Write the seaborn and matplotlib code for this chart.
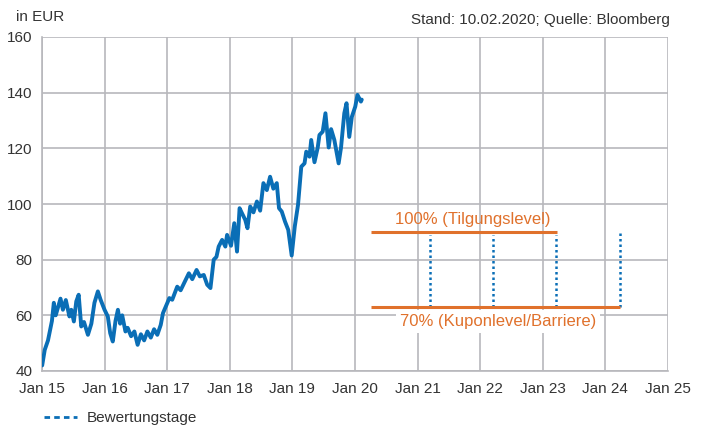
import matplotlib
matplotlib.use("Agg")
import numpy as np
import pandas as pd
import seaborn as sns
from matplotlib import pyplot as plt
import matplotlib.dates as mdates
from matplotlib.lines import Line2D

# price history
price_dates = [
    "2015-01-02", "2015-01-17", "2015-02-05", "2015-02-28", "2015-03-11", "2015-03-22", "2015-04-19",
    "2015-05-03", "2015-05-20", "2015-06-10", "2015-06-21", "2015-07-06", "2015-07-20", "2015-08-03",
    "2015-08-18", "2015-09-03", "2015-09-26", "2015-10-16", "2015-11-03", "2015-11-23", "2015-12-09",
    "2016-01-01", "2016-01-20", "2016-02-03", "2016-02-18", "2016-03-05", "2016-03-19", "2016-04-01",
    "2016-04-13", "2016-05-02", "2016-05-15", "2016-06-04", "2016-06-23", "2016-07-12", "2016-07-31",
    "2016-08-19", "2016-09-07", "2016-09-27", "2016-10-16", "2016-11-04", "2016-11-24", "2016-12-07",
    "2017-01-01", "2017-01-13", "2017-01-30", "2017-02-28", "2017-03-20", "2017-04-18", "2017-05-07",
    "2017-05-27", "2017-06-21", "2017-07-10", "2017-08-02", "2017-08-22", "2017-09-10", "2017-09-29",
    "2017-10-15", "2017-10-28", "2017-11-17", "2017-12-06", "2017-12-16", "2018-01-08", "2018-01-27",
    "2018-02-12", "2018-02-27", "2018-03-12", "2018-04-01", "2018-04-14", "2018-04-30", "2018-05-19",
    "2018-06-08", "2018-06-27", "2018-07-16", "2018-08-05", "2018-08-24", "2018-09-12", "2018-10-02",
    "2018-10-15", "2018-10-31", "2018-11-19", "2018-12-08", "2018-12-28", "2019-01-15", "2019-02-03",
    "2019-02-22", "2019-03-13", "2019-03-23", "2019-04-11", "2019-04-21", "2019-05-10", "2019-05-29",
    "2019-06-08", "2019-06-27", "2019-07-13", "2019-08-01", "2019-08-15", "2019-09-03", "2019-09-28",
    "2019-10-12", "2019-10-31", "2019-11-13", "2019-11-29", "2019-12-14", "2020-01-03", "2020-01-16",
    "2020-02-05", "2020-02-10",
]
price_values = [
    42.0, 47.6, 51.0, 58.0, 64.5, 60.0, 66.0,
    62.0, 65.5, 59.6, 62.0, 57.8, 65.0, 67.4,
    56.0, 57.6, 53.0, 57.0, 64.5, 68.6, 65.6,
    62.0, 59.6, 53.6, 50.6, 58.0, 62.0, 57.0,
    60.0, 54.2, 55.5, 52.5, 54.2, 49.4, 53.2,
    51.0, 54.2, 52.0, 55.0, 53.0, 56.6, 60.8,
    64.4, 66.2, 65.6, 70.3, 69.0, 72.7, 75.1,
    73.0, 76.3, 74.0, 74.5, 71.0, 69.8, 80.0,
    81.0, 84.7, 87.1, 84.7, 88.9, 85.0, 93.1,
    82.9, 98.5, 96.8, 94.3, 91.3, 99.1, 97.0,
    100.9, 97.6, 107.5, 105.0, 109.8, 105.5, 107.5,
    98.5, 97.3, 93.7, 90.7, 81.5, 91.9, 99.7,
    113.4, 114.6, 118.8, 117.0, 123.0, 115.0, 120.3,
    124.8, 126.0, 132.6, 120.3, 126.9, 123.0, 114.6,
    120.3, 132.6, 136.2, 124.1, 131.3, 135.0, 139.2,
    136.8, 137.5,
]

# product levels
tilgung_level = 90
tilgung_span = ["2020-04-03", "2023-03-24"]
barriere_level = 63
barriere_span = ["2020-04-03", "2024-03-29"]
bewertung_dates = ["2021-03-17", "2022-03-17", "2023-03-20", "2024-03-25"]
bewertung_tops = [89, 89, 89, 90]

y_ticks = [40, 60, 80, 100, 120, 140, 160]
x_tick_years = list(range(2015, 2026))

blue = "#0a6eb6"
orange = "#e0712c"
grid_c = "#b8b8bc"
text_c = "#333333"

sns.set_style("white")
plt.rcParams["font.family"] = ["Liberation Sans", "DejaVu Sans"]
fs = 11

df = pd.DataFrame({"date": pd.to_datetime(price_dates), "price": price_values})

fig = plt.figure(figsize=(7.04, 4.25), dpi=100)
ax = fig.add_axes([42 / 704, 1 - 371 / 425, (668 - 42) / 704, (371 - 37) / 425])

sns.lineplot(data=df, x="date", y="price", ax=ax, color=blue, linewidth=2.8, zorder=3)

ax.hlines(tilgung_level, pd.Timestamp(tilgung_span[0]), pd.Timestamp(tilgung_span[1]),
          color=orange, linewidth=2.2, zorder=3)
ax.hlines(barriere_level, pd.Timestamp(barriere_span[0]), pd.Timestamp(barriere_span[1]),
          color=orange, linewidth=2.2, zorder=3)
ax.vlines(pd.to_datetime(bewertung_dates), barriere_level, bewertung_tops,
          color=blue, linestyle=(0, (1, 1.2)), linewidth=1.8, zorder=2)

ax.text(pd.Timestamp("2021-11-20"), 94.3, "100% (Tilgungslevel)", color=orange,
        fontsize=12, ha="center", va="center")
ax.text(pd.Timestamp("2022-04-15"), 57.7, "70% (Kuponlevel/Barriere)", color=orange,
        fontsize=12, ha="center", va="center",
        bbox=dict(facecolor="white", edgecolor="none", pad=3), zorder=4)

ax.set_xlim(pd.Timestamp("2015-01-01"), pd.Timestamp("2025-01-01"))
ax.set_ylim(40, 160)
ax.set_yticks(y_ticks)
ax.set_xticks([pd.Timestamp(f"{y}-01-01") for y in x_tick_years])
ax.xaxis.set_major_formatter(mdates.DateFormatter("%b %y"))
ax.grid(True, color=grid_c, linewidth=1.2)
ax.set_axisbelow(True)
for side in ["top", "right"]:
    ax.spines[side].set_visible(False)
for side in ["left", "bottom"]:
    ax.spines[side].set_color(grid_c)
    ax.spines[side].set_linewidth(1.2)
ax.tick_params(axis="both", length=0, labelsize=fs, labelcolor=text_c)
ax.tick_params(axis="x", pad=8)
ax.tick_params(axis="y", pad=7)
ax.set_xlabel("")
ax.set_ylabel("")

fig.text(16 / 704, 1 - 17 / 425, "in EUR", fontsize=fs, color=text_c, ha="left", va="center")
fig.text(670 / 704, 1 - 20 / 425, "Stand: 10.02.2020; Quelle: Bloomberg", fontsize=fs,
         color=text_c, ha="right", va="center")

handle = Line2D([], [], color=blue, linestyle=(0, (2, 1.5)), linewidth=2.0)
fig.legend([handle], ["Bewertungstage"], loc="center left", bbox_to_anchor=(30 / 704, 1 - 418 / 425),
           frameon=False, fontsize=fs, handlelength=2.2, handletextpad=0.6, labelcolor=text_c)

fig.savefig("out.png", dpi=100)
